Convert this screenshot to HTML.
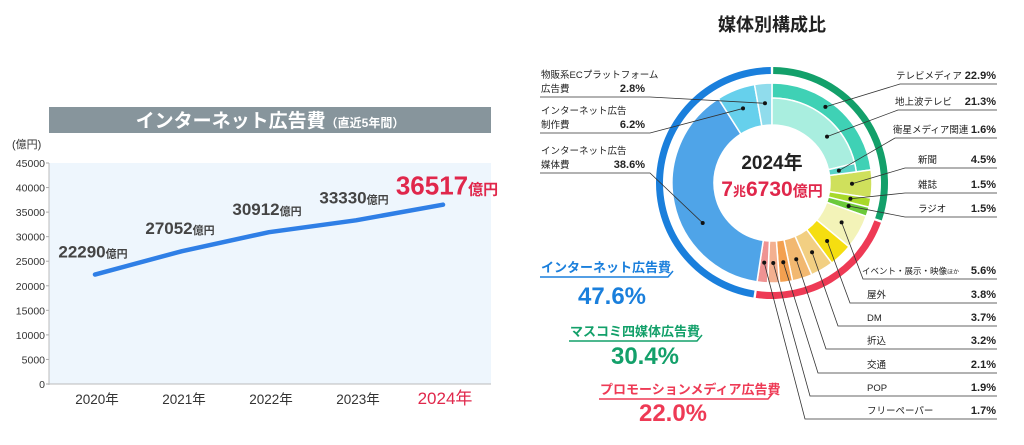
<!DOCTYPE html>
<html><head><meta charset="utf-8"><style>
body{margin:0;background:#fff;width:1024px;height:445px;overflow:hidden}
svg{display:block;font-family:"Liberation Sans","Noto Sans CJK JP",sans-serif}
</style></head><body>
<svg id="s" width="1024" height="445" viewBox="0 0 1024 445">
<g id="left">
<rect x="49" y="107" width="442" height="26" fill="#87959c"/>
<text x="270" y="127" text-anchor="middle" fill="#fff" font-weight="bold" font-size="19">インターネット広告費<tspan font-size="12">（直近5年間）</tspan></text>
<text x="12" y="148" font-size="11" fill="#333">(億円)</text>
<rect x="49" y="163" width="442" height="221" fill="#eef6fd"/>
<line x1="49" y1="163" x2="49" y2="385" stroke="#bbb"/>
<line x1="49" y1="384" x2="491" y2="384" stroke="#bbb"/>
</g>
<g id="right">
<text x="772" y="31" text-anchor="middle" font-size="18" font-weight="bold" fill="#222">媒体別構成比</text>
<text x="772" y="169" text-anchor="middle" font-size="19" font-weight="bold" fill="#222">2024年</text>
<text x="772" y="196" text-anchor="middle" font-size="21" font-weight="bold" fill="#e0274b">7<tspan font-size="13">兆</tspan>6730<tspan font-size="15">億円</tspan></text>
<g>
<text x="541" y="272" font-size="13" font-weight="bold" fill="#1a7fdc">インターネット広告費</text>
<path d="M540 277H668l5-6" stroke="#1a7fdc" stroke-width="1.5" fill="none"/>
<text x="612" y="304" text-anchor="middle" font-size="24" font-weight="bold" fill="#1a7fdc">47.6%</text>
<text x="570" y="336" font-size="13" font-weight="bold" fill="#13a06a">マスコミ四媒体広告費</text>
<path d="M569 341H697l5-6" stroke="#13a06a" stroke-width="1.5" fill="none"/>
<text x="645" y="364" text-anchor="middle" font-size="24" font-weight="bold" fill="#13a06a">30.4%</text>
<text x="600" y="394" font-size="13" font-weight="bold" fill="#ee3a55">プロモーションメディア広告費</text>
<path d="M599 399H768l5-6" stroke="#ee3a55" stroke-width="1.5" fill="none"/>
<text x="673" y="421" text-anchor="middle" font-size="24" font-weight="bold" fill="#ee3a55">22.0%</text>
</g>
</g>
</svg>
<script>
const NS='http://www.w3.org/2000/svg';
const years=['2020年','2021年','2022年','2023年','2024年'];
const spend=[22290,27052,30912,33330,36517];
const yTicks=[0,5000,10000,15000,20000,25000,30000,35000,40000,45000];
const segNames=['テレビメディア','新聞','雑誌','ラジオ','イベント・展示・映像ほか','屋外','DM','折込','交通','POP','フリーペーパー','インターネット広告媒体費','インターネット広告制作費','物販系ECプラットフォーム広告費'];
const segShares=[22.9,4.5,1.5,1.5,5.6,3.8,3.7,3.2,2.1,1.9,1.7,38.6,6.2,2.8];
const tvSubNames=['地上波テレビ','衛星メディア関連'];
const tvSubShares=[21.3,1.6];
const groupNames=['マスコミ四媒体','プロモーションメディア','インターネット'];
const groupShares=[30.4,22.0,47.6];
function el(tag,attrs,parent,txt){const e=document.createElementNS(NS,tag);for(const k in attrs)e.setAttribute(k,attrs[k]);if(txt!=null)e.textContent=txt;parent.appendChild(e);return e;}
const L=document.getElementById('left'),R=document.getElementById('right');
const xS=i=>95+i*87, yS=v=>384-v/45000*221;
yTicks.forEach(t=>{const e=el('text',{x:45,y:yS(t)+4,'text-anchor':'end','font-size':10.5,fill:'#333'},L,t);


el('line',{x1:46,x2:49,y1:yS(t),y2:yS(t),stroke:'#aaa'},L);});
years.forEach((y,i)=>{const last=i===years.length-1;const e=el('text',{x:xS(i)+2,y:404,'text-anchor':'middle','font-size':last?17:13.5,fill:last?'#e0274b':'#333'},L,y);

});
let d='';spend.forEach((v,i)=>{d+=(i?'L':'M')+xS(i)+' '+yS(v);});
const line=el('path',{d:d,stroke:'#2f7fe6','stroke-width':4.5,fill:'none','stroke-linecap':'round','stroke-linejoin':'round'},L);


spend.forEach((v,i)=>{const last=i===spend.length-1;
const t=el('text',{x:xS(i)+(last?4:-2),y:yS(v)-(last?10:17),'text-anchor':'middle','font-weight':'bold','font-size':last?26:17,fill:last?'#e0274b':'#444'},L);


el('tspan',{},t,v);el('tspan',{'font-size':last?15:11},t,'億円');});
const cx=772,cy=183;
function pt(r,a){const t=(a-90)*Math.PI/180;return [cx+r*Math.cos(t),cy+r*Math.sin(t)];}
function arc(r0,r1,a0,a1,fill,parent){const [x0,y0]=pt(r1,a0),[x1,y1]=pt(r1,a1),[x2,y2]=pt(r0,a1),[x3,y3]=pt(r0,a0);const lg=(a1-a0)>180?1:0;
return el('path',{d:`M${x0} ${y0}A${r1} ${r1} 0 ${lg} 1 ${x1} ${y1}L${x2} ${y2}A${r0} ${r0} 0 ${lg} 0 ${x3} ${y3}Z`,fill:fill,stroke:'#fff','stroke-width':1.5},parent);}
const segColors=['#3fd1b5','#cfe05c','#a8d92a','#6cc93a','#f3f3b8','#f5de10','#f2cf82','#f2b870','#f3a050','#f3b090','#ef9393','#4fa4e8','#66d0ec','#90dcec'];
const segR0=[85,58,58,58,58,58,58,58,58,58,58,58,58,58];
const mids=[];let a=0;
segShares.forEach((s,i)=>{const a1=a+s*3.6;const p=arc(segR0[i],100,a,a1,segColors[i],R);


mids.push((a+a1)/2);a=a1;});
const tvCols=['#a9eedf','#58d3c7'];let b=0;const tvMids=[];
tvSubShares.forEach((s,i)=>{const b1=b+s*3.6;const p=arc(58,85,b,b1,tvCols[i],R);


tvMids.push((b+b1)/2);b=b1;});
const gCols=['#13a06a','#ee3a55','#1a7fdc'];let g=0;
groupShares.forEach((s,i)=>{const g1=g+s*3.6;const p=arc(109,116,g+0.6,g1-0.6,gCols[i],R);
p.setAttribute('stroke','none');

g=g1;});
function label(name,pct,ty,ux0,dot,pctX){
const gg=el('g',{},R);


el('path',{d:`M${dot[0]} ${dot[1]}L${ux0} ${ty+5}H${pctX}`,stroke:'#333','stroke-width':0.8,fill:'none'},gg);
el('circle',{cx:dot[0],cy:dot[1],r:2,fill:'#111'},gg);
return gg;}
function rlabel(name,pct,ty,ux0,dot,nx){const gg=label(name,pct,ty,ux0,dot,997);
if(name.endsWith('ほか')){const t=el('text',{x:nx,y:ty,'font-size':8.5,fill:'#222'},gg);
el('tspan',{},t,name.slice(0,-2));el('tspan',{'font-size':6},t,'ほか');}
else el('text',{x:nx,y:ty,'font-size':9.5,fill:'#222'},gg,name);
el('text',{x:996,y:ty,'text-anchor':'end','font-size':11,'font-weight':'bold',fill:'#222'},gg,pct.toFixed(1)+'%');}
const rows=[
['テレビメディア',segShares[0],pt(93,mids[0]*0.85),79,900,896],
['地上波テレビ',tvSubShares[0],pt(72,tvMids[0]*1.3),105,898,895],
['衛星メディア関連',tvSubShares[1],pt(68,tvMids[1]),133,895,893],
['新聞',segShares[1],pt(80,mids[1]),163,905,918],
['雑誌',segShares[2],pt(80,mids[2]),188,905,918],
['ラジオ',segShares[3],pt(80,mids[3]),212,905,918],
['イベント・展示・映像ほか',segShares[4],pt(80,mids[4]),274,863,862],
['屋外',segShares[5],pt(80,mids[5]),298,850,867],
['DM',segShares[6],pt(80,mids[6]),321,838,867],
['折込',segShares[7],pt(80,mids[7]),344,826,867],
['交通',segShares[8],pt(80,mids[8]),368,818,867],
['POP',segShares[9],pt(80,mids[9]),391,810,867],
['フリーペーパー',segShares[10],pt(80,mids[10]),414,805,867]];
rows.forEach(r=>rlabel(r[0],r[1],r[3],r[4],r[2],r[5]));
const lrows=[[segShares[13],pt(80,mids[13]),92,['物販系ECプラットフォーム','広告費']],[segShares[12],pt(80,mids[12]),128,['インターネット広告','制作費']],[segShares[11],pt(80,mids[11]*0.93),168,['インターネット広告','媒体費']]];
lrows.forEach(r=>{const gg=el('g',{},R);


el('path',{d:`M${r[1][0]} ${r[1][1]}L650 ${r[2]+5}H540`,stroke:'#333','stroke-width':0.8,fill:'none'},gg);
el('circle',{cx:r[1][0],cy:r[1][1],r:2,fill:'#111'},gg);
el('text',{x:541,y:r[2]-14,'font-size':9.5,fill:'#222'},gg,r[3][0]);
el('text',{x:541,y:r[2],'font-size':9.5,fill:'#222'},gg,r[3][1]);
el('text',{x:645,y:r[2],'text-anchor':'end','font-size':11,'font-weight':'bold',fill:'#222'},gg,r[0].toFixed(1)+'%');});
</script>
</body></html>
